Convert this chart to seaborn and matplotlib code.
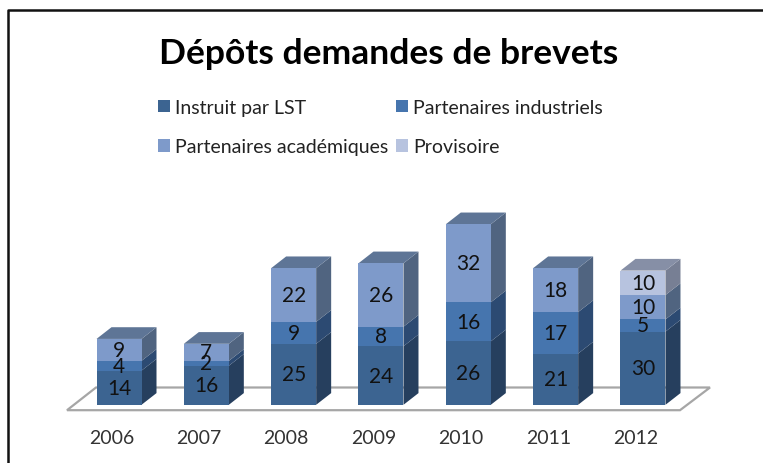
import numpy as np
import matplotlib
matplotlib.use("Agg")
import matplotlib.pyplot as plt
from matplotlib.lines import Line2D
from matplotlib.patches import Polygon, Patch
import seaborn as sns

years = ["2006", "2007", "2008", "2009", "2010", "2011", "2012"]
instruit = [14, 16, 25, 24, 26, 21, 30]
industriels = [4, 2, 9, 8, 16, 17, 5]
academiques = [9, 7, 22, 26, 32, 18, 10]
provisoire = [0, 0, 0, 0, 0, 0, 10]

series_names = ["Instruit par LST", "Partenaires industriels", "Partenaires académiques", "Provisoire"]
series_values = [instruit, industriels, academiques, provisoire]

front_colors = ["#3C6491", "#4675AE", "#7E9ACA", "#B7C3DF"]
side_colors = ["#263F5E", "#2C4A72", "#506480", "#777F94"]
top_colors = ["#46607F", "#4E6A90", "#5E7596", "#868FA6"]

W, H = 763, 464
PX_X = 87.33   # pixels per category
PX_Y = 2.44    # pixels per unit
X0 = 119.0     # pixel of first bar centre
Y0 = 405.8     # pixel of value 0
BAR_W = 45 / PX_X
DX = 15 / PX_X
DY = 11.7 / PX_Y

sns.set_theme(style="white")
plt.rcParams["font.family"] = ["Lato", "DejaVu Sans"]

fig = plt.figure(figsize=(W / 100, H / 100), dpi=100, facecolor="white")
ax = fig.add_axes([0, 0, 1, 1])

# floor of the 3d chart
floor_back = (Y0 - 388.5) / PX_Y
floor_front = (Y0 - 411.2) / PX_Y
floor = Polygon([((67 - X0) / PX_X, floor_front), ((680 - X0) / PX_X, floor_front),
                 ((710 - X0) / PX_X, floor_back), ((96 - X0) / PX_X, floor_back)],
                closed=True, facecolor="white", edgecolor="#A6A6A6", linewidth=1.6, zorder=0.5)
ax.add_patch(floor)

# stacked bars
bottom = np.zeros(len(years))
for s, vals in enumerate(series_values):
    vals = np.array(vals, dtype=float)
    sns.barplot(x=years, y=vals, bottom=bottom, order=years, width=BAR_W, color=front_colors[s],
                saturation=1, linewidth=0, ax=ax, zorder=3)
    cont = ax.containers[-1]
    for i, bar in enumerate(cont):
        if vals[i] == 0:
            bar.set_visible(False)
            continue
        # side face
        xr = i + BAR_W / 2
        side = Polygon([(xr, bottom[i]), (xr + DX, bottom[i] + DY),
                        (xr + DX, bottom[i] + vals[i] + DY), (xr, bottom[i] + vals[i])],
                       facecolor=side_colors[s], edgecolor="none", zorder=2)
        ax.add_patch(side)
    labels = [str(int(v)) if v > 0 else "" for v in vals]
    ax.bar_label(cont, labels=labels, label_type="center", fontsize=15, color="#111111", zorder=6)
    bottom = bottom + vals

# top faces
for i in range(len(years)):
    last = max(s for s in range(4) if series_values[s][i] > 0)
    xl, xr = i - BAR_W / 2, i + BAR_W / 2
    t = bottom[i]
    ax.add_patch(Polygon([(xl, t), (xr, t), (xr + DX, t + DY), (xl + DX, t + DY)],
                         facecolor=top_colors[last], edgecolor="none", zorder=2))

ax.set_xlim(-X0 / PX_X, (W - X0) / PX_X)
ax.set_ylim((Y0 - H) / PX_Y, Y0 / PX_Y)
ax.axis("off")

# year labels sit a bit left of the bars
for i, y in enumerate(years):
    ax.text(i - 0.085, (Y0 - 439) / PX_Y, y, ha="center", va="center", fontsize=14, color="#333333")

fig.text(389 / W, 1 - 54 / H, "Dépôts demandes de brevets", ha="center", va="center",
         fontsize=25.5, fontweight="bold", color="black")

handles = [Patch(facecolor=c, edgecolor="none") for c in front_colors]
# ncol fills by column, so reorder to get rows
order = [0, 2, 1, 3]
leg = ax.legend([handles[k] for k in order], [series_names[k] for k in order], ncol=2, frameon=False,
                loc="upper left", bbox_to_anchor=(158 / W, 1 - 100 / H), bbox_transform=fig.transFigure,
                fontsize=14, handlelength=0.62, handleheight=0.62, handletextpad=0.26,
                labelspacing=1.15, columnspacing=0.41, borderpad=0, borderaxespad=0)
for t in leg.get_texts():
    t.set_color("#222222")

# chart frame, only top and left are in the crop
fig.add_artist(Line2D([8 / W, 8 / W, 1], [0, 1 - 11 / H, 1 - 11 / H], color="#111111", linewidth=1.8,
                      transform=fig.transFigure))

fig.savefig("out.png", dpi=100, facecolor="white")
